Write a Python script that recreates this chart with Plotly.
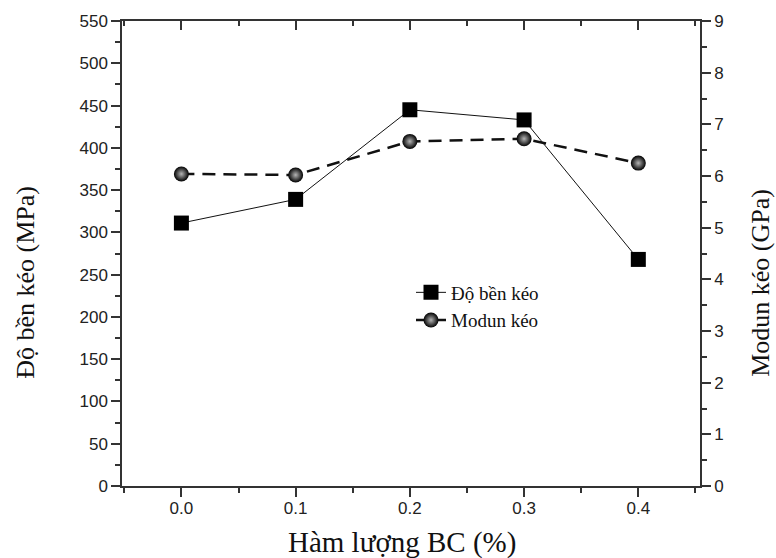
import plotly.graph_objects as go

bc = [0.0, 0.1, 0.2, 0.3, 0.4]
do_ben_keo = [311, 339, 445, 433, 268]
modun_keo = [6.04, 6.02, 6.67, 6.72, 6.25]
x_ticks = [0.0, 0.1, 0.2, 0.3, 0.4]
x_ticklabels = ["0.0", "0.1", "0.2", "0.3", "0.4"]

axis_color = "#333333"
tick_font = dict(family="Liberation Sans, Arial", size=17, color="#222222")
serif = "Liberation Serif, Times New Roman"

fig = go.Figure()
fig.add_trace(go.Scatter(
    x=bc, y=do_ben_keo, name="Độ bền kéo", mode="lines+markers",
    line=dict(color="#111111", width=1),
    marker=dict(symbol="square", size=15, color="black"),
    yaxis="y",
))
fig.add_trace(go.Scatter(
    x=bc, y=modun_keo, name="Modun kéo", mode="lines+markers",
    line=dict(color="#111111", width=2.5, dash="13px,8px"),
    marker=dict(symbol="circle", size=15, color="black",
                gradient=dict(type="radial", color="#b5b5b5"),
                line=dict(width=0)),
    yaxis="y2",
))
# invisible trace to activate top axis
fig.add_trace(go.Scatter(x=[bc[0]], y=[0], xaxis="x2", yaxis="y",
                         mode="markers", marker=dict(opacity=0),
                         showlegend=False, hoverinfo="skip"))

xrange = [-0.052, 0.454]
fig.update_layout(
    width=776, height=558,
    margin=dict(l=122, r=76, t=19, b=72),
    paper_bgcolor="white", plot_bgcolor="white",
    showlegend=True,
    legend=dict(x=0.5, y=0.457, xanchor="left", yanchor="top",
                bgcolor="rgba(0,0,0,0)",
                font=dict(family=serif, size=19, color="#111111"),
                tracegroupgap=0, itemwidth=30),
    xaxis=dict(
        range=xrange, tickvals=x_ticks, ticktext=x_ticklabels,
        ticks="outside", ticklen=9, tickwidth=1.5, tickcolor=axis_color,
        showline=True, linecolor=axis_color, linewidth=1.5,
        showgrid=False, zeroline=False, tickfont=tick_font,
        ticklabelstandoff=-3,
        minor=dict(dtick=0.05, tick0=0, ticks="outside", ticklen=5, tickwidth=1.5, tickcolor=axis_color),
    ),
    xaxis2=dict(
        range=xrange, overlaying="x", side="top", tickvals=x_ticks,
        ticks="inside", ticklen=9, tickwidth=1.5, tickcolor=axis_color,
        showline=True, linecolor=axis_color, linewidth=1.5,
        showticklabels=False, showgrid=False, zeroline=False,
        minor=dict(dtick=0.05, tick0=0, ticks="inside", ticklen=5, tickwidth=1.5, tickcolor=axis_color),
    ),
    yaxis=dict(
        range=[0, 550], dtick=50, tick0=0,
        ticks="outside", ticklen=9, tickwidth=1.5, tickcolor=axis_color,
        showline=True, linecolor=axis_color, linewidth=1.5,
        showgrid=False, zeroline=False, tickfont=tick_font,
        minor=dict(dtick=25, tick0=0, ticks="outside", ticklen=5, tickwidth=1.5, tickcolor=axis_color),
    ),
    yaxis2=dict(
        range=[0, 9], dtick=1, tick0=0, overlaying="y", side="right",
        ticks="outside", ticklen=9, tickwidth=1.5, tickcolor=axis_color,
        showline=True, linecolor=axis_color, linewidth=1.5,
        showgrid=False, zeroline=False, tickfont=tick_font,
        minor=dict(dtick=0.5, tick0=0, ticks="outside", ticklen=5, tickwidth=1.5, tickcolor=axis_color),
    ),
    annotations=[
        dict(text="Hàm lượng BC (%)", xref="paper", yref="paper", x=0.484, y=0,
             xanchor="center", yanchor="middle", yshift=-56, showarrow=False,
             font=dict(family=serif, size=29, color="#111111")),
        dict(text="Độ bền kéo (MPa)", xref="paper", yref="paper", x=0, y=0.437,
             xanchor="center", yanchor="middle", xshift=-96, textangle=-90, showarrow=False,
             font=dict(family=serif, size=26, color="#111111")),
        dict(text="Modun kéo (GPa)", xref="paper", yref="paper", x=1, y=0.437,
             xanchor="center", yanchor="middle", xshift=61, textangle=-90, showarrow=False,
             font=dict(family=serif, size=26, color="#111111")),
    ],
)

fig.write_html("out.html",
               config={"displayModeBar": False},
               post_script="document.body.style.margin='0';document.body.style.overflow='hidden';")
